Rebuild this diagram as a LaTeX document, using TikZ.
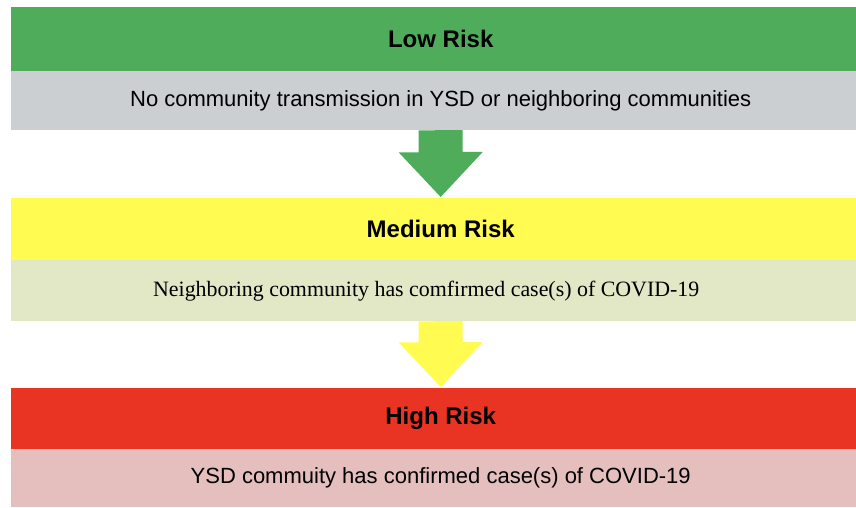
\documentclass[tikz,border=0pt]{standalone}
\usepackage{fontspec}
\setmainfont{Liberation Sans}
\newfontfamily\serifface{Liberation Serif}
\definecolor{lowgreen}{HTML}{4FAC5B}
\definecolor{lowgray}{HTML}{CBCFD2}
\definecolor{medyellow}{HTML}{FFFB50}
\definecolor{medpale}{HTML}{E2E7C6}
\definecolor{highred}{HTML}{E93323}
\definecolor{highpink}{HTML}{E4BFBE}
\tikzset{
  bar/.style={rectangle, anchor=north west, inner sep=0pt, minimum width=859bp, text=black},
  titlebar/.style={bar, font=\fontsize{24bp}{28bp}\selectfont\bfseries},
  descbar/.style={bar, font=\fontsize{22bp}{26bp}\selectfont},
}
\begin{document}
\begin{tikzpicture}[x=1bp, y=-1bp]
\useasboundingbox (0,0) rectangle (856,508);
\clip (0,0) rectangle (856,508);
\fill[white] (0,0) rectangle (856,508);
% Low risk
\node[titlebar, fill=lowgreen, minimum height=64bp] (low) at (11,7) {Low Risk};
\node[descbar, fill=lowgray, minimum height=59bp] (lowd) at (11,71) {No community transmission in YSD or neighboring communities};
% Medium risk
\node[titlebar, fill=medyellow, minimum height=62bp] (med) at (11,198) {Medium Risk};
\node[descbar, fill=medpale, minimum height=61bp, font=\fontsize{21.9bp}{26bp}\selectfont\serifface] (medd) at (11,260) {Neighboring community has comfirmed case(s) of COVID-19\hspace*{29bp}};
% High risk
\node[titlebar, fill=highred, minimum height=61bp] (high) at (11,388) {High Risk};
\node[descbar, fill=highpink, minimum height=58bp] (highd) at (11,449) {YSD commuity has confirmed case(s) of COVID-19};
% block arrows
\fill[lowgreen] ([xshift=-22bp]lowd.south) -- ++(0,22) -- ++(-20,0) -- ([yshift=1bp]med.north) -- ++(42,-45) -- ++(-20,0) -- ++(0,-22) -- cycle;
\fill[medyellow] ([xshift=-22bp]medd.south) -- ++(0,21) -- ++(-20,0) -- ([yshift=1bp]high.north) -- ++(42,-45) -- ++(-20,0) -- ++(0,-21) -- cycle;
\end{tikzpicture}
\end{document}
